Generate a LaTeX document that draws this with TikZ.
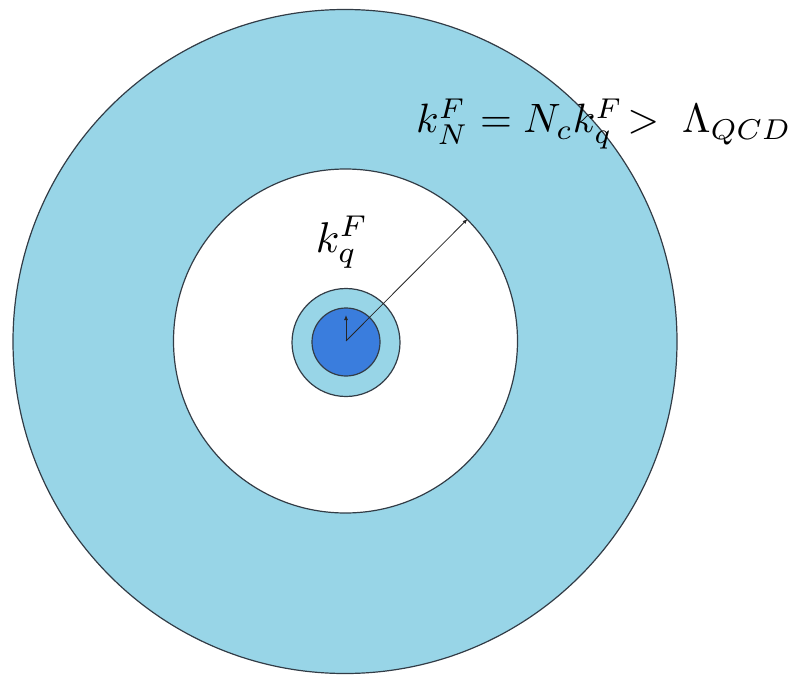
\documentclass[tikz,border=0pt]{standalone}
\usetikzlibrary{arrows.meta}
\definecolor{lightblue}{RGB}{152,213,231}
\definecolor{darkblue}{RGB}{58,125,221}
\definecolor{edge}{RGB}{50,60,70}
\tikzset{
  ring/.style={circle, draw=edge, line width=1.2pt, inner sep=0pt},
  radiusarrow/.style={draw=black!85, line width=0.8pt, -{Latex[length=5pt,width=4pt]}},
  formula/.style={inner sep=0pt}
}
\begin{document}
\begin{tikzpicture}[x=1pt,y=-1pt]
\useasboundingbox (0,0) rectangle (802,676);
\node[ring, fill=lightblue, minimum size=664pt] (outer) at (345,341.5) {};
\node[ring, fill=white, minimum size=344pt] (quark) at (345.5,341) {};
\node[ring, fill=lightblue, minimum size=108pt] (small) at (346,342.5) {};
\node[ring, fill=darkblue, minimum size=68pt] (core) at (346,342) {};
\coordinate (c) at (346,341);
\coordinate (up) at (346,315);
\draw[radiusarrow] (c) -- (quark.45);
\draw[radiusarrow] (c) -- (up);
\node[formula, anchor=base west] (lab1) at (416,133) {\scalebox{4.1}{$k_N^F = N_c k_q^F\!>\;\Lambda_{QCD}$}};
\node[formula, anchor=base] (lab2) at (342,252) {\scalebox{4.3}{$k_q^F$}};
\end{tikzpicture}
\end{document}
